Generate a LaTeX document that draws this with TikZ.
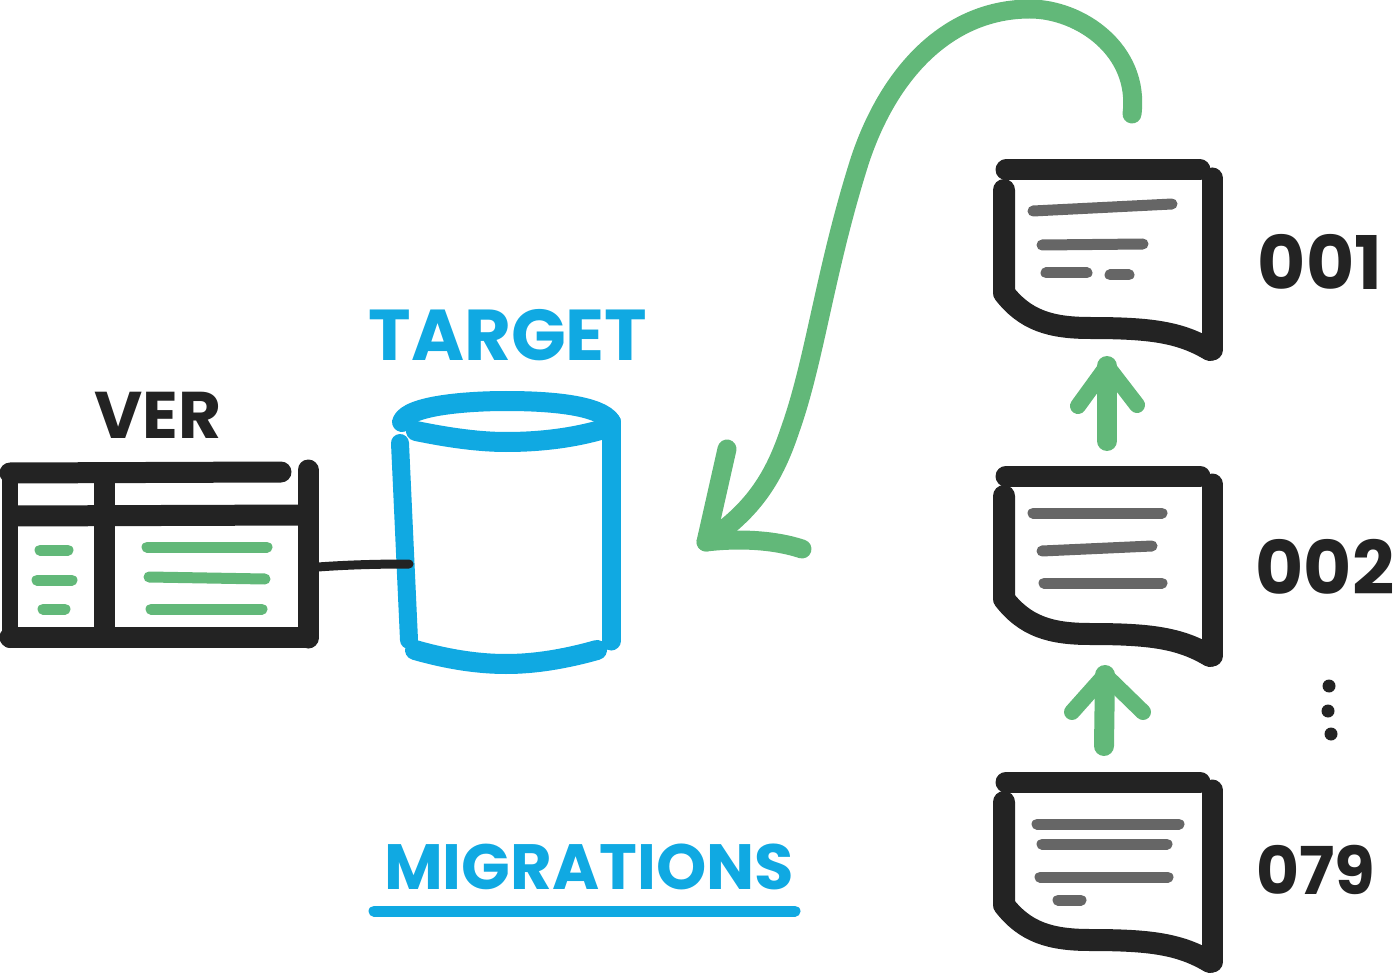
\documentclass[tikz,border=0pt]{standalone}
\usepackage{fontspec}
\setmainfont{Poppins}
\usetikzlibrary{arrows.meta,positioning}
\definecolor{ink}{HTML}{232323}
\definecolor{sky}{HTML}{10A9E2}
\definecolor{leaf}{HTML}{62B879}
\definecolor{slate}{HTML}{666666}
\tikzset{
  inkbar/.style={draw=ink,line width=21pt,line cap=round,line join=round},
  skybar/.style={draw=sky,line width=20pt,line cap=round,line join=round},
  leafbar/.style={draw=leaf,line width=16pt,line cap=round,line join=round},
  memoline/.style={draw=slate,line width=11pt,line cap=round},
  rowline/.style={draw=leaf,line width=11pt,line cap=round},
  lab/.style={inner sep=0pt,font=\bfseries\fontsize{#1}{#1}\selectfont},
  tag/.style={lab=#1,text=ink}
}
\begin{document}
\begin{tikzpicture}[x=1pt,y=-1pt,>=Stealth]
    \useasboundingbox (0,0) rectangle (1395,973);
    % version table
    \draw[inkbar] (10,473)--(281,472);
    \draw[inkbar,line width=16pt] (10,473)--(10,640);
    \draw[inkbar] (308,470)--(308,638);
    \draw[inkbar] (14,516)--(308,515);
    \draw[inkbar] (104.5,480)--(104.5,636);
    \draw[inkbar] (10,637)--(307,637);
    \foreach \xa/\xb/\ya/\yb in {40/68/550/550,37/72/580/580,43/65/609/609,147/267/547/547,149/265/577/579,151/262/609/609}
      \draw[rowline] (\xa,\ya)--(\xb,\yb);
    \node[lab=66,text=ink] (ver) at (158,415) {VER};
    % target database
    \coordinate (tableport) at (318,567);
    \coordinate (dbport) at (409,564);
    \draw[skybar] (402,422) .. controls (408,405) and (470,401) .. (506,401)
      .. controls (550,401) and (600,405) .. (611,422);
    \draw[skybar] (416,431) .. controls (450,438) and (480,442) .. (506,442)
      .. controls (540,442) and (575,438) .. (607,428);
    \draw[skybar,line width=18pt] (400,443)--(409,640);
    \draw[skybar,line width=19pt] (611,422)--(611,641);
    \draw[skybar] (415,650) .. controls (450,660) and (480,664) .. (506,664)
      .. controls (535,664) and (565,659) .. (597,650);
    \draw[inkbar,line width=9pt] (tableport) .. controls (345,565) and (375,564) .. (dbport);
    \node[lab=72,text=sky] (target) at (508,335) {TARGET};
    \node[lab=64,text=sky] (migrations) at (589,867) {MIGRATIONS};
    \coordinate (ruleleft) at (374,911);
    \coordinate (ruleright) at (795,911);
    \draw[draw=sky,line width=11pt,line cap=round] (ruleleft)--(ruleright);
    % migration files
    \foreach \dy in {0,306,612}{
      \begin{scope}[yshift=-\dy pt]
        \draw[inkbar] (1006,170)--(1200,170);
        \draw[inkbar,line width=22pt] (1004,190)--(1004,293)
          .. controls (1025,320) and (1050,328) .. (1090,328)
          .. controls (1150,328) and (1180,332) .. (1210,350);
        \draw[inkbar] (1212,178)--(1212,350);
      \end{scope}
    }
    \foreach \xa/\xb/\ya/\yb in {1033/1172/211/204,1042/1143/245/244,1046/1087/273/273,1110/1129/275/275,
      1033/1162/513/513,1042/1152/551/546,1044/1162/583/583,
      1037/1179/824/824,1042/1167/844/844,1040/1168/877/877,1058/1081/900/900}
      \draw[memoline] (\xa,\ya)--(\xb,\yb);
    \node[tag=74] (first) at (1320,262) {001};
    \node[tag=74] (second) at (1325,567) {002};
    \node[tag=66] (last) at (1316,870) {079};
    \foreach \x/\y in {1329/686,1328/711,1331/734}
      \fill[ink] (\x,\y) circle (6.5pt);
    % arrows
    \coordinate (uptail) at (1107,441);
    \coordinate (uptip) at (1107,366);
    \draw[leafbar,line width=20pt] (uptail)--(uptip);
    \draw[leafbar] (1078,406)--(uptip)--(1137,405);
    \coordinate (lowtail) at (1104,746);
    \coordinate (lowtip) at (1105,675);
    \draw[leafbar,line width=20pt] (lowtail)--(lowtip);
    \draw[leafbar] (1072,712)--(lowtip)--(1143,712);
    \coordinate (bigtail) at (1132,114);
    \coordinate (bigtip) at (706,542);
    \draw[leafbar,line width=19pt] (bigtail) .. controls (1140,50) and (1080,9) .. (1030,9)
      .. controls (950,9) and (890,70) .. (860,160)
      .. controls (825,270) and (815,360) .. (790,430)
      .. controls (775,475) and (755,510) .. (bigtip);
    \draw[leafbar,line width=19pt] (727,449)--(bigtip) .. controls (740,538) and (775,540) .. (802,549);
  \end{tikzpicture}
\end{document}
